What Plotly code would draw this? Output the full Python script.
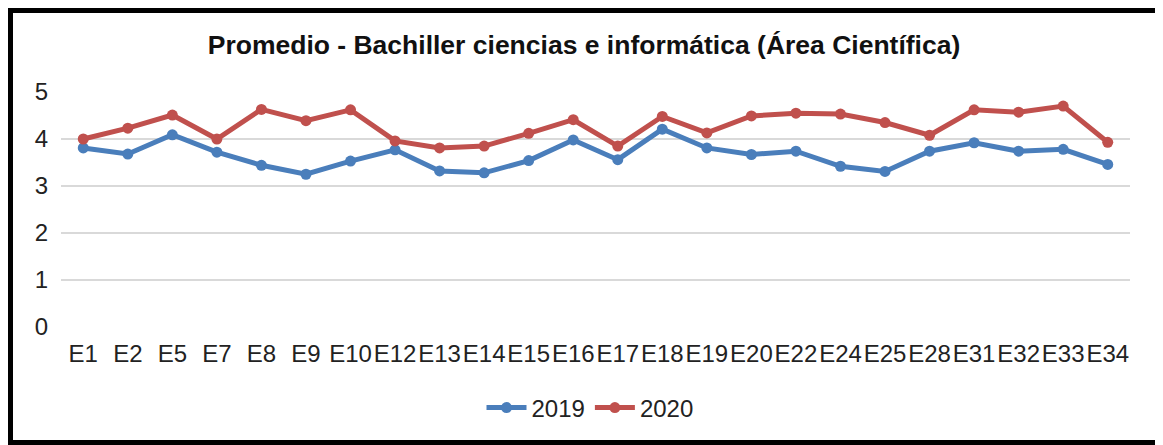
import plotly.graph_objects as go

categories = ["E1", "E2", "E5", "E7", "E8", "E9", "E10", "E12", "E13", "E14", "E15", "E16",
              "E17", "E18", "E19", "E20", "E22", "E24", "E25", "E28", "E31", "E32", "E33", "E34"]
values_2019 = [3.81, 3.68, 4.09, 3.72, 3.44, 3.25, 3.53, 3.77, 3.32, 3.28, 3.54, 3.98,
               3.56, 4.21, 3.81, 3.67, 3.74, 3.42, 3.31, 3.74, 3.92, 3.74, 3.78, 3.46]
values_2020 = [4.00, 4.23, 4.51, 4.00, 4.63, 4.39, 4.62, 3.96, 3.81, 3.85, 4.12, 4.41,
               3.85, 4.48, 4.13, 4.49, 4.55, 4.53, 4.35, 4.08, 4.62, 4.57, 4.70, 3.93]
y_ticks = [0, 1, 2, 3, 4, 5]

# page body has an 8px margin: design in screen coordinates, shift by OFF
OFF = 8
W, H = 1163 - OFF, 445 - OFF
PL, PR, PT, PB = 61, 1130, 92, 327  # plot area in screen pixels
L, R, T, B = PL - OFF, W - (PR - OFF), PT - OFF, H - (PB - OFF)
pw, ph = PR - PL, PB - PT

def px_x(x):
    return (x - PL) / pw

def px_y(y):
    return (PB - y) / ph

fig = go.Figure()
fig.add_trace(go.Scatter(x=categories, y=values_2019, name="2019", mode="lines+markers",
                         line=dict(color="#4A7EBB", width=5),
                         marker=dict(color="#4A7EBB", size=11)))
fig.add_trace(go.Scatter(x=categories, y=values_2020, name="2020", mode="lines+markers",
                         line=dict(color="#C0504D", width=5),
                         marker=dict(color="#C0504D", size=11)))

fig.update_layout(
    width=W, height=H,
    margin=dict(l=L, r=R, t=T, b=B),
    paper_bgcolor="white", plot_bgcolor="white",
    font=dict(family="Liberation Sans, Arial, sans-serif", color="#222222"),
    title=dict(text="<b>Promedio - Bachiller ciencias e informática (Área Científica)</b>",
               x=(584 - OFF) / W, xref="container", xanchor="center",
               y=1 - (45 - OFF) / H, yref="container", yanchor="middle",
               font=dict(size=26.5, color="#111111")),
    xaxis=dict(type="category", range=[-0.5, len(categories) - 0.5], showgrid=False,
               showline=False, zeroline=False, tickangle=0, ticklabelstandoff=10,
               tickfont=dict(size=24, color="#222222"), ticks="", ticklen=0),
    yaxis=dict(range=[0, 5], tickvals=y_ticks, showgrid=True, gridcolor="#D9D9D9",
               gridwidth=2, zeroline=False, showline=False, ticklabelstandoff=12,
               tickfont=dict(size=24, color="#222222"), ticks=""),
    legend=dict(orientation="h", x=px_x(590), xanchor="center", y=px_y(408),
                yanchor="middle", font=dict(size=24, color="#222222"),
                bgcolor="rgba(0,0,0,0)", itemwidth=40),
    showlegend=True,
    shapes=[dict(type="rect", xref="paper", yref="paper",
                 x0=px_x(OFF), x1=px_x(1163), y0=px_y(445), y1=px_y(OFF),
                 line=dict(color="black", width=10), fillcolor="rgba(0,0,0,0)",
                 layer="above")],
)

fig.write_html("out.html")
